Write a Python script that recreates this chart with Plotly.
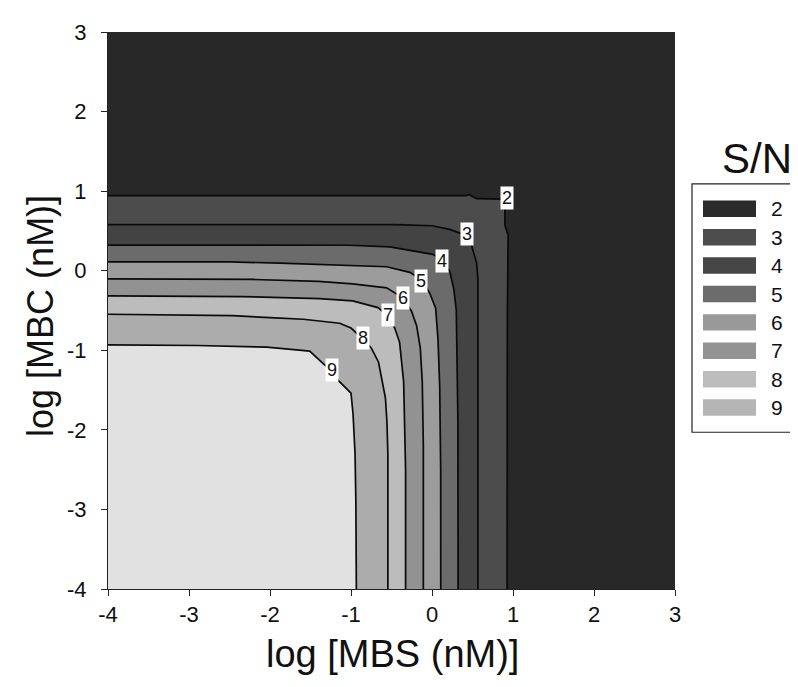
import plotly.graph_objects as go

# ---------------- data ----------------
levels = [2, 3, 4, 5, 6, 7, 8, 9]

L2_x = [-4, 0.42, 0.46, 0.55, 0.88, 0.90, 0.90, 0.94, 0.93, 0.927]
L2_y = [0.944, 0.944, 0.955, 0.905, 0.90, 0.80, 0.57, 0.45, -0.6, -4]

L3_x = [-4, -0.44, 0.0, 0.22, 0.43, 0.49, 0.55, 0.567, 0.567]
L3_y = [0.58, 0.58, 0.565, 0.52, 0.44, 0.31, 0.10, -0.11, -4]

L4_x = [-4, -1.02, -0.52, 0.01, 0.13, 0.22, 0.27, 0.30, 0.32, 0.322]
L4_y = [0.322, 0.32, 0.30, 0.205, 0.13, -0.01, -0.236, -0.5, -1.9, -4]

L5_x = [-4, -2.5, -1.88, -1.26, -0.9, -0.56, -0.275, -0.13, -0.03, 0.045, 0.074, 0.095, 0.107, 0.108]
L5_y = [0.112, 0.11, 0.096, 0.075, 0.06, 0.05, -0.02, -0.11, -0.277, -0.47, -0.86, -1.45, -2.5, -4]

L6_x = [-4, -2.2, -1.4, -0.98, -0.56, -0.36, -0.254, -0.19, -0.145, -0.12, -0.107, -0.107]
L6_y = [-0.103, -0.11, -0.135, -0.165, -0.215, -0.34, -0.506, -0.69, -0.97, -1.4, -2.2, -4]

L7_x = [-4, -2.35, -1.39, -0.98, -0.667, -0.55, -0.46, -0.40, -0.35, -0.326, -0.326]
L7_y = [-0.315, -0.325, -0.35, -0.38, -0.463, -0.56, -0.72, -0.9, -1.4, -2.5, -4]

L8_x = [-4, -2.46, -2.0, -1.59, -1.14, -1.0, -0.86, -0.75, -0.66, -0.61, -0.575, -0.556, -0.545, -0.545]
L8_y = [-0.547, -0.565, -0.59, -0.61, -0.66, -0.72, -0.85, -0.97, -1.15, -1.4, -1.6, -1.91, -2.3, -4]

L9_x = [-4, -2.9, -2.04, -1.51, -1.34, -1.24, -1.16, -1.0, -0.975, -0.95, -0.94, -0.934]
L9_y = [-0.932, -0.94, -0.96, -1.01, -1.17, -1.25, -1.375, -1.54, -1.8, -2.3, -2.9, -4]

# contour label positions (data coordinates)
label_x = [0.92, 0.432, 0.128, -0.13, -0.36, -0.547, -0.856, -1.24]
label_y = [0.92, 0.46, 0.124, -0.124, -0.34, -0.56, -0.845, -1.25]

# colour of region beyond level-2 line, and of the region enclosed by each line
outer_color = "#282828"
band_colors = ["#4c4c4c", "#434343", "#6b6b6b", "#9c9c9c",
               "#929292", "#bcbcbc", "#acacac", "#e1e1e1"]

# legend (S/N)
legend_labels = ["2", "3", "4", "5", "6", "7", "8", "9"]
legend_colors = ["#2b2b2b", "#4d4d4d", "#464646", "#6c6c6c",
                 "#999999", "#939393", "#bdbdbd", "#b5b5b5"]

tick_vals = [-4, -3, -2, -1, 0, 1, 2, 3]
tick_text = ["-4", "-3", "-2", "-1", "0", "1", "2", "3"]

x_title = "log [MBS (nM)]"
y_title = "log [MBC (nM)]"
legend_title = "S/N"

# ---------------- figure ----------------
lines_x = [L2_x, L3_x, L4_x, L5_x, L6_x, L7_x, L8_x, L9_x]
lines_y = [L2_y, L3_y, L4_y, L5_y, L6_y, L7_y, L8_y, L9_y]

OFF = 8                      # page body margin
W, H = 790, 671
ML, MR, MT, MB = 100, 123, 16, 90
PW, PH = W - ML - MR, H - MT - MB
FONT = "Liberation Sans, Arial, sans-serif"


def px(xp):
    """reference-page pixel x -> paper x"""
    return (xp - OFF - ML) / PW


def py(yp):
    """reference-page pixel y -> paper y"""
    return (H - MB - (yp - OFF)) / PH


fig = go.Figure()

for lvl, xs, ys, col in zip(levels, lines_x, lines_y, band_colors):
    fig.add_trace(go.Scatter(
        x=xs + [-4], y=ys + [-4], mode="lines", fill="toself",
        fillcolor=col, line=dict(width=0), hoverinfo="skip",
        showlegend=False))

for lvl, xs, ys in zip(levels, lines_x, lines_y):
    fig.add_trace(go.Scatter(
        x=xs, y=ys, mode="lines", line=dict(color="#0a0a0a", width=1.7),
        showlegend=False, name=str(lvl)))

annotations = []
for lvl, lx, ly in zip(levels, label_x, label_y):
    annotations.append(dict(
        x=lx, y=ly, xref="x", yref="y", text=str(lvl), showarrow=False,
        font=dict(family=FONT, size=18, color="#111111"),
        bgcolor="white", borderpad=1))

annotations.append(dict(x=px(392), y=py(655), xref="paper", yref="paper",
                        text=x_title, showarrow=False,
                        font=dict(family=FONT, size=38, color="#111111"),
                        xanchor="center", yanchor="middle"))
annotations.append(dict(x=px(41), y=py(312), xref="paper", yref="paper",
                        text=y_title, showarrow=False, textangle=-90,
                        font=dict(family=FONT, size=36, color="#111111"),
                        xanchor="center", yanchor="middle"))
annotations.append(dict(x=px(757), y=py(152), xref="paper", yref="paper",
                        text=legend_title, showarrow=False,
                        font=dict(family=FONT, size=42, color="#111111"),
                        xanchor="center", yanchor="middle"))

shapes = []
shapes.append(dict(type="rect", xref="paper", yref="paper",
                   x0=px(692), x1=px(810), y0=py(430), y1=py(178),
                   line=dict(color="#222222", width=1.2), fillcolor="white",
                   layer="above"))
for i, (lab, col) in enumerate(zip(legend_labels, legend_colors)):
    top = 195 + 28.8 * i
    shapes.append(dict(type="rect", xref="paper", yref="paper",
                       x0=px(703), x1=px(756), y0=py(top + 16.7), y1=py(top),
                       line=dict(width=0), fillcolor=col, layer="above"))
    annotations.append(dict(x=px(769), y=py(top + 8.5), xref="paper", yref="paper",
                            text=lab, showarrow=False,
                            font=dict(family=FONT, size=21, color="#111111"),
                            xanchor="left", yanchor="middle"))

axis_common = dict(
    range=[-4, 3], tickmode="array", tickvals=tick_vals, ticktext=tick_text,
    ticks="outside", ticklen=6, tickwidth=1, tickcolor="#222222",
    showline=True, linecolor="#222222", linewidth=1, mirror=False,
    showgrid=False, zeroline=False, fixedrange=True,
    tickfont=dict(family=FONT, size=22, color="#111111"),
)

fig.update_layout(
    width=W, height=H, autosize=False,
    margin=dict(l=ML, r=MR, t=MT, b=MB, pad=0),
    paper_bgcolor="white", plot_bgcolor=outer_color,
    xaxis=dict(axis_common, ticklabelstandoff=0),
    yaxis=dict(axis_common, ticklabelstandoff=10),
    shapes=shapes, annotations=annotations, showlegend=False,
)

fig.write_html("out.html")
